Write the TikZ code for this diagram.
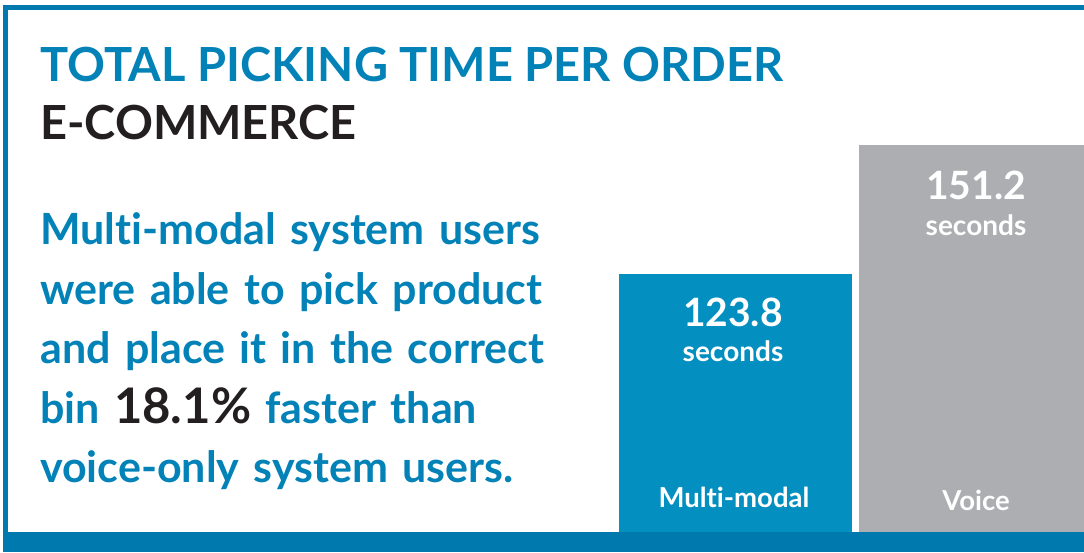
\documentclass[tikz,border=0pt]{standalone}
\usepackage{fontspec}
\setmainfont[Ligatures={NoCommon}]{Lato}
\definecolor{frameblue}{HTML}{0079AF}
\definecolor{barblue}{HTML}{038FC0}
\definecolor{textblue}{HTML}{0382B8}
\definecolor{bargray}{HTML}{ACAEB1}
\definecolor{inkblack}{HTML}{231F20}

\tikzset{
  barlabel/.style={anchor=base, text=white, inner sep=0pt, font=\bfseries\fontsize{39}{39}\selectfont},
  barunit/.style={anchor=base, text=white, inner sep=0pt, font=\bfseries\fontsize{28}{28}\selectfont},
  barname/.style={anchor=base, text=white, inner sep=0pt, font=\bfseries\fontsize{27.5}{27.5}\selectfont}
}

\begin{document}
\begin{tikzpicture}[x=1pt, y=1pt]
      \pgfmathsetmacro{\W}{1084};
      \pgfmathsetmacro{\H}{552};

      \useasboundingbox (0,0) rectangle (\W,\H);

      % frame
      \fill[frameblue] (3,542) rectangle (\W,547);
      \fill[frameblue] (3,20) rectangle (8,547);
      \fill[frameblue] (3,0) rectangle (\W,20);

      % bars
      \fill[barblue] (619,20) rectangle (852,278);
      \fill[bargray] (859,20) rectangle (\W,407);

      % headings
      \node[anchor=base west, inner sep=0pt, text=textblue,
        font=\bfseries\fontsize{47}{47}\selectfont] (title) at (40,470)
        {TOTAL PICKING TIME PER ORDER};
      \node[anchor=base west, inner sep=0pt, text=inkblack,
        font=\bfseries\fontsize{47}{47}\selectfont] (sector) at (40,412)
        {E-COMMERCE};

      % statement
      \node[anchor=base west, inner sep=0pt, text=textblue, align=left,
        text width=540pt,
        font=\bfseries\fontsize{43}{59.5}\selectfont] (claim) at (40,307)
        {Multi-modal system users\\
         were able to pick product\\
         and place it in the correct\\
         bin {\color{inkblack}\fontsize{49}{59.5}\selectfont 18.1\%} faster than\\
         voice-only system users.};

      % values
      \node[barlabel] (mmval) at (733,225) {123.8};
      \node[barunit] (mmunit) at (733,190) {seconds};
      \node[barname] (mmname) at (734,45) {Multi-modal};

      \node[barlabel] (vval) at (976,352) {151.2};
      \node[barunit] (vunit) at (976,316) {seconds};
      \node[barname] (vname) at (976,42) {Voice};
    \end{tikzpicture}
\end{document}
